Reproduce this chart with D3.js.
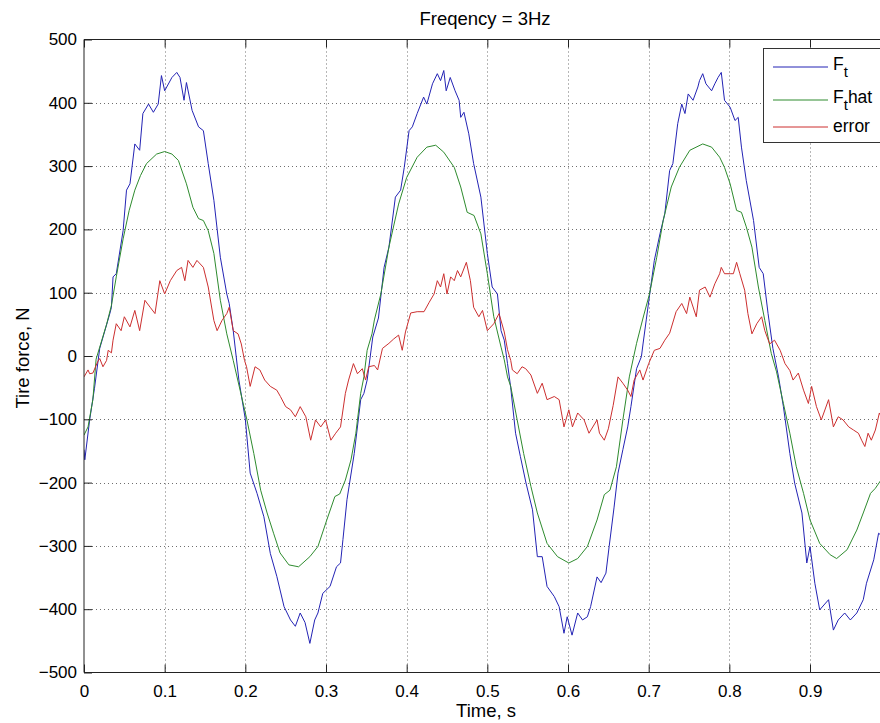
<!DOCTYPE html>
<html>
<head>
<meta charset="utf-8">
<script src="https://cdn.jsdelivr.net/npm/d3@7"></script>
<style>
  html, body { margin: 0; padding: 0; background: #fff; }
  svg { display: block; font-family: "Liberation Sans", Arial, sans-serif; }
</style>
</head>
<body>
<svg id="chart" width="880" height="723"></svg>
<script>
// ---------- data ----------
const chartTitle = "Freqency = 3Hz";
const xLabel = "Time, s";
const yLabel = "Tire force, N";
const xTicks = [0, 0.1, 0.2, 0.3, 0.4, 0.5, 0.6, 0.7, 0.8, 0.9];
const yTicks = [-500, -400, -300, -200, -100, 0, 100, 200, 300, 400, 500];
const seriesNames = ["Ft", "Fthat", "error"];

// F_t : [time, force]
const ftData = [
  [0.000,-148],[0.001,-164],[0.007,-101],[0.013,-51],[0.0195,12],[0.032,67],[0.034,77],[0.036,125],[0.040,130],
  [0.0485,198],[0.0527,262],[0.057,272],[0.063,335],[0.069,325],[0.073,383],[0.080,398],[0.086,385],[0.092,398],
  [0.096,443],[0.100,419],[0.109,440],[0.115,448],[0.119,440],[0.124,404],[0.127,432],[0.134,388],[0.142,362],
  [0.148,356],[0.154,304],[0.161,246],[0.169,156],[0.177,98],[0.180,83],[0.185,40],[0.192,-38],[0.200,-100],
  [0.206,-185],[0.2145,-217],[0.223,-254],[0.231,-312],[0.239,-348],[0.248,-396],[0.256,-417],[0.262,-427],
  [0.268,-406],[0.274,-421],[0.280,-454],[0.286,-417],[0.290,-406],[0.296,-375],[0.305,-364],[0.313,-333],
  [0.318,-327],[0.321,-290],[0.326,-227],[0.335,-154],[0.343,-69],[0.347,-59],[0.351,-38],[0.358,30],[0.365,60],
  [0.372,140],[0.378,172],[0.386,251],[0.3925,262],[0.397,298],[0.403,356],[0.407,362],[0.413,383],[0.421,409],
  [0.425,398],[0.432,430],[0.438,446],[0.442,435],[0.446,451],[0.449,419],[0.454,440],[0.460,419],[0.465,404],
  [0.467,377],[0.471,385],[0.477,351],[0.483,304],[0.492,251],[0.500,162],[0.506,109],[0.5125,98],[0.517,40],
  [0.521,25],[0.525,-12],[0.529,-50],[0.535,-122],[0.541,-159],[0.548,-201],[0.556,-243],[0.562,-317],[0.568,-317],
  [0.574,-364],[0.583,-380],[0.589,-396],[0.595,-438],[0.599,-412],[0.605,-441],[0.612,-406],[0.618,-417],
  [0.624,-412],[0.628,-396],[0.636,-349],[0.641,-358],[0.647,-343],[0.651,-301],[0.657,-240],[0.662,-185],
  [0.668,-148],[0.674,-112],[0.678,-80],[0.685,-20],[0.691,-1],[0.693,19],[0.697,57],[0.701,95],[0.707,151],
  [0.714,193],[0.720,225],[0.726,293],[0.730,304],[0.736,367],[0.741,398],[0.745,383],[0.749,414],[0.755,404],
  [0.761,425],[0.763,435],[0.767,446],[0.771,430],[0.778,419],[0.782,430],[0.786,440],[0.790,448],[0.794,404],
  [0.801,393],[0.807,372],[0.811,377],[0.815,330],[0.821,277],[0.830,214],[0.837,140],[0.842,130],[0.848,67],
  [0.854,12],[0.861,-33],[0.867,-80],[0.875,-154],[0.881,-201],[0.890,-248],[0.896,-327],[0.900,-301],[0.906,-359],
  [0.912,-401],[0.923,-385],[0.929,-433],[0.935,-417],[0.943,-406],[0.950,-417],[0.958,-406],[0.966,-385],
  [0.970,-359],[0.979,-322],[0.985,-280],[0.988,-283]
];

// F_t hat : [time, force]
const ftHatData = [
  [0.000,-125],[0.005,-112],[0.011,-69],[0.015,-5],[0.0195,14],[0.028,50],[0.034,80],[0.040,125],[0.0485,185],
  [0.056,230],[0.063,262],[0.070,285],[0.0775,304],[0.090,319],[0.100,323],[0.109,319],[0.117,309],[0.127,272],
  [0.135,235],[0.142,217],[0.148,214],[0.154,198],[0.161,162],[0.169,88],[0.177,35],[0.185,-7],[0.1935,-54],
  [0.202,-101],[0.2105,-154],[0.219,-212],[0.227,-248],[0.235,-280],[0.243,-311],[0.254,-330],[0.266,-333],
  [0.280,-317],[0.290,-301],[0.301,-259],[0.311,-222],[0.317,-218],[0.324,-196],[0.331,-164],[0.337,-122],
  [0.343,-59],[0.347,-33],[0.351,9],[0.357,35],[0.360,57],[0.368,98],[0.378,172],[0.390,240],[0.400,282],
  [0.413,314],[0.425,330],[0.436,333],[0.446,322],[0.459,298],[0.467,267],[0.475,227],[0.4835,222],[0.492,193],
  [0.500,130],[0.508,62],[0.517,14],[0.521,-6],[0.525,-33],[0.529,-48],[0.537,-101],[0.545,-154],[0.554,-206],
  [0.562,-248],[0.574,-296],[0.587,-317],[0.601,-327],[0.612,-320],[0.624,-301],[0.636,-259],[0.645,-219],
  [0.652,-212],[0.660,-175],[0.668,-101],[0.676,-33],[0.685,20],[0.693,60],[0.701,98],[0.710,156],[0.718,214],
  [0.728,267],[0.738,298],[0.751,325],[0.767,335],[0.778,330],[0.788,314],[0.794,298],[0.801,272],[0.809,230],
  [0.815,227],[0.821,204],[0.828,172],[0.836,109],[0.844,56],[0.852,4],[0.8585,-25],[0.867,-75],[0.875,-122],
  [0.883,-175],[0.892,-217],[0.900,-259],[0.912,-296],[0.925,-314],[0.933,-320],[0.946,-306],[0.958,-275],
  [0.966,-248],[0.975,-217],[0.981,-209],[0.988,-196]
];

// error : [time, force]
const errorData = [
  [0.000,-33],[0.005,-22],[0.007,-28],[0.011,-27],[0.017,-9],[0.0195,-4],[0.0235,-17],[0.028,-7],[0.030,9],
  [0.034,5],[0.036,25],[0.040,51],[0.046,40],[0.050,62],[0.057,46],[0.063,72],[0.069,40],[0.0755,88],[0.082,77],
  [0.088,67],[0.094,119],[0.100,98],[0.107,119],[0.115,135],[0.121,140],[0.125,119],[0.129,151],[0.135,140],
  [0.140,151],[0.148,140],[0.154,109],[0.161,56],[0.165,40],[0.171,56],[0.177,67],[0.180,77],[0.185,40],
  [0.191,35],[0.195,19],[0.199,-7],[0.2015,-17],[0.206,-48],[0.212,-17],[0.218,-22],[0.224,-38],[0.231,-48],
  [0.239,-54],[0.2435,-64],[0.250,-80],[0.256,-85],[0.262,-96],[0.268,-80],[0.275,-96],[0.281,-133],[0.287,-101],
  [0.2935,-112],[0.2995,-101],[0.306,-133],[0.312,-122],[0.318,-112],[0.324,-59],[0.328,-38],[0.334,-12],
  [0.339,-28],[0.345,-20],[0.349,-38],[0.353,-17],[0.360,-15],[0.364,-22],[0.370,12],[0.378,20],[0.384,27],
  [0.390,33],[0.3945,9],[0.3985,38],[0.405,68],[0.413,70],[0.4215,70],[0.428,85],[0.434,98],[0.438,119],
  [0.442,109],[0.446,130],[0.450,98],[0.4545,125],[0.459,119],[0.463,135],[0.467,125],[0.474,148],[0.479,119],
  [0.483,77],[0.4895,62],[0.494,72],[0.500,40],[0.508,51],[0.5145,67],[0.521,38],[0.525,10],[0.529,-7],
  [0.531,-22],[0.537,-28],[0.543,-17],[0.5475,-20],[0.554,-30],[0.562,-59],[0.568,-43],[0.574,-69],[0.583,-64],
  [0.589,-69],[0.595,-112],[0.601,-85],[0.6055,-112],[0.612,-90],[0.620,-101],[0.626,-122],[0.636,-101],
  [0.639,-122],[0.645,-133],[0.650,-115],[0.656,-78],[0.662,-33],[0.668,-43],[0.674,-54],[0.678,-64],[0.682,-38],
  [0.689,-22],[0.693,-38],[0.700,-12],[0.707,9],[0.714,12],[0.720,25],[0.726,36],[0.734,70],[0.741,83],
  [0.747,67],[0.751,93],[0.759,62],[0.763,104],[0.770,109],[0.776,93],[0.782,114],[0.788,130],[0.790,140],
  [0.794,130],[0.801,130],[0.805,130],[0.809,148],[0.813,130],[0.819,104],[0.823,67],[0.828,35],[0.834,51],
  [0.840,62],[0.844,40],[0.850,19],[0.856,25],[0.863,9],[0.869,-12],[0.875,-23],[0.879,-38],[0.8855,-27],
  [0.892,-54],[0.898,-75],[0.902,-48],[0.908,-80],[0.914,-101],[0.923,-69],[0.929,-112],[0.935,-96],
  [0.941,-101],[0.948,-112],[0.954,-117],[0.960,-122],[0.964,-133],[0.968,-143],[0.972,-122],[0.976,-133],
  [0.981,-117],[0.986,-90],[0.988,-95]
];

// ---------- layout ----------
const W = 880, H = 723;
const plot = { left: 84, right: 881, top: 39.5, bottom: 672.5 };
const colors = { Ft: "#2323b4", Fthat: "#2e8b2e", error: "#cc2f2f" };

const svg = d3.select("#chart");
svg.append("rect").attr("width", W).attr("height", H).attr("fill", "#fff");

const x = d3.scaleLinear().domain([0, 0.988]).range([plot.left, plot.right]);
const y = d3.scaleLinear().domain([-500, 500]).range([plot.bottom, plot.top]);

// grid
const grid = svg.append("g");
xTicks.forEach(t => {
  if (t === 0) return;
  grid.append("line")
    .attr("x1", Math.round(x(t)) + 0.5).attr("x2", Math.round(x(t)) + 0.5)
    .attr("y1", plot.top).attr("y2", plot.bottom)
    .attr("stroke", "#6e6e6e").attr("stroke-width", 1).attr("stroke-dasharray", "1,3");
});
yTicks.forEach(v => {
  if (v === -500 || v === 500) return;
  grid.append("line")
    .attr("x1", plot.left).attr("x2", plot.right)
    .attr("y1", Math.round(y(v)) + 0.5).attr("y2", Math.round(y(v)) + 0.5)
    .attr("stroke", "#6e6e6e").attr("stroke-width", 1).attr("stroke-dasharray", "1,3");
});

// lines
svg.append("clipPath").attr("id", "clip").append("rect")
  .attr("x", plot.left).attr("y", plot.top)
  .attr("width", plot.right - plot.left).attr("height", plot.bottom - plot.top);

const line = d3.line().x(d => x(d[0])).y(d => y(d[1]));
const lines = svg.append("g").attr("clip-path", "url(#clip)");
[[ftData, "Ft"], [ftHatData, "Fthat"], [errorData, "error"]].forEach(([data, name]) => {
  lines.append("path").datum(data)
    .attr("d", line).attr("fill", "none")
    .attr("stroke", colors[name]).attr("stroke-width", 1)
    .attr("stroke-linejoin", "round");
});

// axes (inward ticks, like MATLAB)
const tickLen = 8;
const xAxisB = d3.axisBottom(x).tickValues(xTicks).tickSize(-tickLen).tickPadding(12)
  .tickFormat(d => d3.format("")(+d.toFixed(1)));
const xAxisT = d3.axisTop(x).tickValues(xTicks).tickSize(-tickLen).tickFormat("");
const yAxisL = d3.axisLeft(y).tickValues(yTicks).tickSize(-tickLen).tickPadding(7).tickFormat(d3.format(""));

function styleAxis(g) {
  g.selectAll(".domain").attr("stroke", "#222").attr("stroke-width", 1);
  g.selectAll(".tick line").attr("stroke", "#222");
  g.selectAll("text").attr("fill", "#000").style("font-size", "17px")
    .style("font-family", "'Liberation Sans', Arial, sans-serif");
}
svg.append("g").attr("transform", `translate(0,${plot.bottom})`).call(xAxisB).call(styleAxis)
  .call(g => g.select(".domain").attr("d", `M${plot.left},0H${plot.right}`));
svg.append("g").attr("transform", `translate(0,${plot.top})`).call(xAxisT).call(styleAxis)
  .call(g => g.select(".domain").attr("d", `M${plot.left},0H${plot.right}`));
svg.append("g").attr("transform", `translate(${plot.left},0)`).call(yAxisL).call(styleAxis)
  .call(g => g.select(".domain").attr("d", `M0,${plot.top}V${plot.bottom}`));

// titles
svg.append("text").attr("x", 485).attr("y", 25).attr("text-anchor", "middle")
  .style("font-size", "18.5px").text(chartTitle);
svg.append("text").attr("x", 486).attr("y", 716.5).attr("text-anchor", "middle")
  .style("font-size", "18.5px").text(xLabel);
svg.append("text").attr("transform", "translate(29,358) rotate(-90)").attr("text-anchor", "middle")
  .style("font-size", "18.5px").text(yLabel);

// legend
const lg = svg.append("g");
lg.append("rect").attr("x", 763.5).attr("y", 48.5).attr("width", 130).attr("height", 94)
  .attr("fill", "#fff").attr("stroke", "#333").attr("stroke-width", 1);
const legendRows = [
  { key: "Ft", ly: 67, ty: 69.5 },
  { key: "Fthat", ly: 100, ty: 102.5 },
  { key: "error", ly: 127, ty: 132 }
];
legendRows.forEach(r => {
  lg.append("line").attr("x1", 773).attr("x2", 828).attr("y1", r.ly).attr("y2", r.ly)
    .attr("stroke", colors[r.key]).attr("stroke-width", 1);
  const t = lg.append("text").attr("x", 833).attr("y", r.ty).style("font-size", "17.5px");
  if (r.key === "error") {
    t.text("error");
  } else {
    t.append("tspan").text("F");
    t.append("tspan").attr("dy", 7).style("font-size", "15px").text("t");
    if (r.key === "Fthat") t.append("tspan").attr("dy", -7).text("hat");
  }
});
</script>
</body>
</html>
